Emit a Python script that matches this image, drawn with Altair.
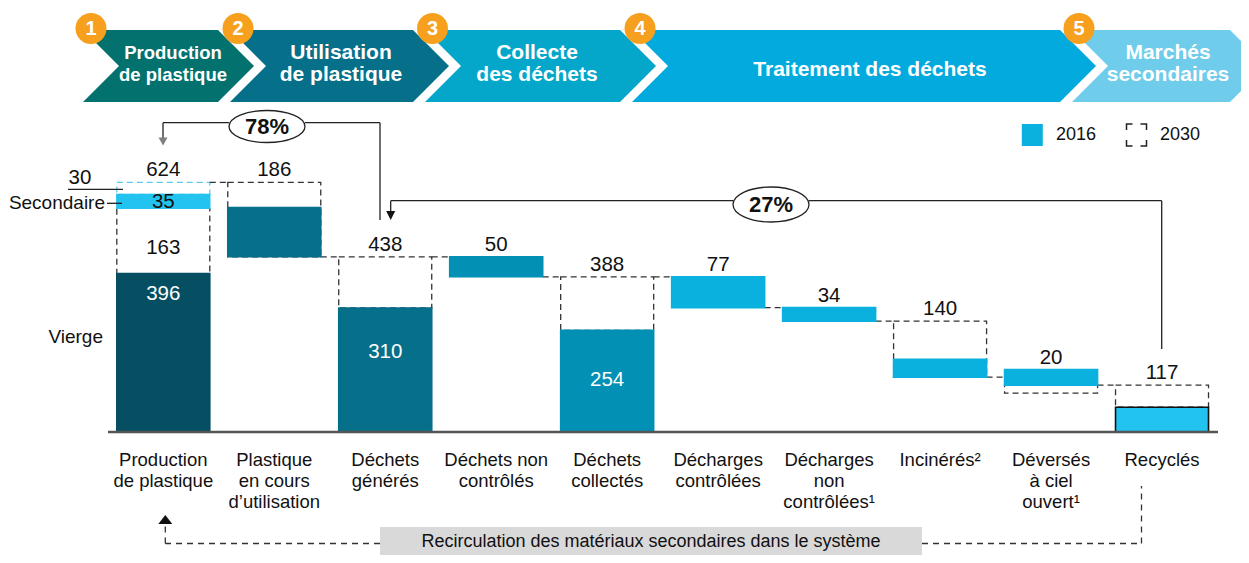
import altair as alt
import pandas as pd

# ---------------- data ----------------
cat_lines = [
    ["Production", "de plastique"],
    ["Plastique", "en cours", "d’utilisation"],
    ["Déchets", "générés"],
    ["Déchets non", "contrôlés"],
    ["Déchets", "collectés"],
    ["Décharges", "contrôlées"],
    ["Décharges", "non", "contrôlées¹"],
    ["Incinérés²"],
    ["Déversés", "à ciel", "ouvert¹"],
    ["Recyclés"],
]
# solid 2016 bars (Mt, drawn as a waterfall)
start_2016 = [0, 438, 0, 388, 0, 311, 277, 137, 117, 0]
end_2016 = [396, 561, 310, 438, 254, 388, 311, 182, 156, 62]
# dashed 2030 boxes
start_2030 = [396, 438, 310, None, 254, None, None, 137, 97, 62]
end_2030 = [559, 624, 438, None, 388, None, None, 277, 117, 117]
secondary_2016 = [559, 594]        # 35
secondary_2030_extra = [594, 624]  # 30
top_values = ["624", "186", "438", "50", "388", "77", "34", "140", "20", "117"]
top_levels = [624, 624, 438, 438, 388, 388, 311, 277, 156, 117]
flow_levels = [624, 438, 438, 388, 388, 311, 277, 137, 117]
inner_values = ["396", "35", "163", "310", "254"]
inner_bar = [0, 0, 0, 2, 4]
inner_levels = [346, 576, 460, 200, 130]
step_numbers = ["1", "2", "3", "4", "5"]
step_titles = [["Production", "de plastique"], ["Utilisation", "de plastique"],
               ["Collecte", "des déchets"], ["Traitement des déchets"],
               ["Marchés", "secondaires"]]
flow_shares = ["78%", "27%"]
legend_labels = ["2016", "2030"]
recirc_text = "Recirculation des matériaux secondaires dans le système"

# ---------------- styles / layout ----------------
FONT = "Liberation Sans"
bar_colors = ["#064F63", "#066F8A", "#066F8A", "#0290B5", "#0290B5",
              "#0BB1DE", "#0BB1DE", "#0BB1DE", "#0BB1DE", "#22C3EE"]
chev_colors = ["#03726E", "#066F8A", "#04A7C9", "#03AADD", "#6FCCEA"]
HW = 0.419
xs = alt.Scale(domain=[-1.3995, 9.7117], nice=False, zero=False)
ys = alt.Scale(domain=[-307.5, 1060], nice=False, zero=False)
OFF = 8


def X(f):
    return alt.X(f, type="quantitative", scale=xs, axis=None)


def Y(f):
    return alt.Y(f, type="quantitative", scale=ys, axis=None)


def PX(f):
    return alt.X(f, type="quantitative", scale=None, axis=None)


def PY(f):
    return alt.Y(f, type="quantitative", scale=None, axis=None)


# ---- bars ----
bars = pd.DataFrame({"i": list(range(10)), "lo": start_2016, "hi": end_2016,
                     "fill": bar_colors,
                     "stroke": bar_colors[:9] + ["#111111"]})
bars["x0"] = bars.i - HW
bars["x1"] = bars.i + HW
bar_layer = alt.Chart(bars).mark_rect(strokeWidth=1.6).encode(
    x=X("x0"), x2="x1", y=Y("lo"), y2="hi",
    fill=alt.Fill("fill:N", scale=None), stroke=alt.Stroke("stroke:N", scale=None))

sec = pd.DataFrame({"x0": [-HW], "x1": [HW], "lo": [secondary_2016[0]], "hi": [secondary_2016[1]]})
sec_layer = alt.Chart(sec).mark_rect(color="#22C3EE", stroke="#22C3EE", strokeWidth=1.4).encode(
    x=X("x0"), x2="x1", y=Y("lo"), y2="hi")

box_rows = []
for i, (a, b) in enumerate(zip(start_2030, end_2030)):
    if a is not None:
        box_rows.append({"x0": i - HW, "x1": i + HW, "lo": a, "hi": b, "stroke": "#333333"})
box_rows.append({"x0": -HW, "x1": HW, "lo": secondary_2030_extra[0],
                 "hi": secondary_2030_extra[1], "stroke": "#5CC9EE"})
boxes = pd.DataFrame(box_rows)
box_layer = alt.Chart(boxes).mark_rect(fill="transparent", strokeDash=[6, 4], strokeWidth=1.3).encode(
    x=X("x0"), x2="x1", y=Y("lo"), y2="hi", stroke=alt.Stroke("stroke:N", scale=None))

conn = pd.DataFrame({"x0": [i + HW for i in range(9)], "x1": [i + 1 - HW for i in range(9)],
                     "lv": flow_levels})
conn_layer = alt.Chart(conn).mark_rule(color="#333333", strokeDash=[6, 4], strokeWidth=1.3).encode(
    x=X("x0"), x2="x1", y=Y("lv"))

toplab = pd.DataFrame({"i": list(range(10)), "t": top_values,
                       "lv": [v + 30 for v in top_levels]})
top_layer = alt.Chart(toplab).mark_text(font=FONT, fontSize=20.5, color="#111111", baseline="middle").encode(
    x=X("i"), y=Y("lv"), text="t:N")

inner = pd.DataFrame({"i": inner_bar, "t": inner_values, "lv": inner_levels,
                      "c": ["#FFFFFF", "#111111", "#111111", "#FFFFFF", "#FFFFFF"]})
inner_layer = alt.Chart(inner).mark_text(font=FONT, fontSize=20.5, baseline="middle").encode(
    x=X("i"), y=Y("lv"), text="t:N", color=alt.Color("c:N", scale=None))

cat_rows = []
for i, lines in enumerate(cat_lines):
    for k, ln in enumerate(lines):
        cat_rows.append({"i": i, "t": ln, "py": 460 + 21 * k - OFF})
cat_layer = alt.Chart(pd.DataFrame(cat_rows)).mark_text(
    font=FONT, fontSize=18.5, color="#111111", baseline="middle").encode(
    x=X("i"), y=PY("py"), text="t:N")

# ---- header chevrons ----
chev_L = [83, 230, 425, 632, 1072]
chev_W = [135, 183, 195, 428, 158]
chev = pd.DataFrame({
    "px": [l - OFF for l in chev_L], "py": [66 - OFF] * 5,
    "path": [f"M0,-36L{w},-36L{w + 36},0L{w},36L0,36L36,0Z" for w in chev_W],
    "fill": chev_colors})
chev_layer = alt.Chart(chev).mark_point(filled=True, size=4, opacity=1, strokeWidth=0).encode(
    x=PX("px"), y=PY("py"), shape=alt.Shape("path:N", scale=None), fill=alt.Fill("fill:N", scale=None))

circ_x = [91, 238, 432.5, 640, 1079]
circ = pd.DataFrame({"px": [c - OFF for c in circ_x], "py": [28.5 - OFF] * 5, "t": step_numbers})
circ_layer = alt.Chart(circ).mark_point(shape="circle", filled=True, size=961, opacity=1,
                                        color="#F6A01E", strokeWidth=0).encode(x=PX("px"), y=PY("py"))
circ_txt = alt.Chart(circ).mark_text(font=FONT, fontSize=20, fontWeight="bold", color="white",
                                     baseline="middle").encode(x=PX("px"), y=PY("py"), text="t:N")

head_x = [173, 341, 537, 870, 1168]
head_size = [18.5, 21, 21, 21, 21]
head_rows = []
for j, lines in enumerate(step_titles):
    ys_ = [69.5] if len(lines) == 1 else [52.5, 75]
    for ln, yy in zip(lines, ys_):
        head_rows.append({"px": head_x[j] - OFF, "py": yy - OFF, "t": ln, "s": head_size[j]})
head_layer = alt.Chart(pd.DataFrame(head_rows)).mark_text(
    font=FONT, fontWeight="bold", color="white", baseline="middle").encode(
    x=PX("px"), y=PY("py"), text="t:N", size=alt.Size("s:Q", scale=None))

# ---- annotation lines ----
segs = [
    (380, 220, 380, 122.7), (380, 122.7, 305, 122.7), (229, 122.7, 163, 122.7), (163, 122.7, 163, 138),
    (1161.7, 349, 1161.7, 200.7), (1161.7, 200.7, 809, 200.7), (733, 200.7, 390.7, 200.7),
    (390.7, 200.7, 390.7, 212),
    (68, 189.3, 123, 189.3), (107, 203.3, 122, 203.3),
]
seg_df = pd.DataFrame([{"x": a - OFF, "y": b - OFF, "x2": c - OFF, "y2": d - OFF} for a, b, c, d in segs])
seg_layer = alt.Chart(seg_df).mark_rule(color="#222222", strokeWidth=1.3).encode(
    x=PX("x"), y=PY("y"), x2="x2", y2="y2")

dsegs = [(380, 543.5, 165.3, 543.5), (165.3, 543.5, 165.3, 524),
         (922, 543.5, 1141.5, 543.5), (1141.5, 543.5, 1141.5, 486)]
dseg_df = pd.DataFrame([{"x": a - OFF, "y": b - OFF, "x2": c - OFF, "y2": d - OFF} for a, b, c, d in dsegs])
dseg_layer = alt.Chart(dseg_df).mark_rule(color="#333333", strokeWidth=1.3, strokeDash=[6, 5]).encode(
    x=PX("x"), y=PY("y"), x2="x2", y2="y2")

axis_df = pd.DataFrame({"x": [108 - OFF], "x2": [1218 - OFF], "y": [432 - OFF]})
axis_layer = alt.Chart(axis_df).mark_rule(color="#555555", strokeWidth=2.4).encode(
    x=PX("x"), x2="x2", y=PY("y"))

arrows = pd.DataFrame({
    "px": [163 - OFF, 390.7 - OFF, 165.3 - OFF], "py": [145.5 - OFF, 220 - OFF, 515 - OFF],
    "path": ["M-4.5,-8L4.5,-8L0,0Z", "M-4.5,-9L4.5,-9L0,0Z", "M-7,9L7,9L0,0Z"],
    "fill": ["#808080", "#111111", "#111111"]})
arrow_layer = alt.Chart(arrows).mark_point(filled=True, size=4, opacity=1, strokeWidth=0).encode(
    x=PX("px"), y=PY("py"), shape=alt.Shape("path:N", scale=None), fill=alt.Fill("fill:N", scale=None))

ell = pd.DataFrame({"px": [267 - OFF, 771 - OFF], "py": [126.5 - OFF, 204.5 - OFF],
                    "path": ["M-38,0A38,16 0 1,0 38,0A38,16 0 1,0 -38,0Z",
                             "M-38,0A38,17.5 0 1,0 38,0A38,17.5 0 1,0 -38,0Z"],
                    "t": flow_shares})
ell_layer = alt.Chart(ell).mark_point(filled=True, size=4, opacity=1, fill="white", stroke="#222222",
                                      strokeWidth=1.3).encode(
    x=PX("px"), y=PY("py"), shape=alt.Shape("path:N", scale=None))
ell_txt = alt.Chart(ell).mark_text(font=FONT, fontSize=22, fontWeight="bold", color="#111111",
                                   baseline="middle").encode(x=PX("px"), y=PY("py"), text="t:N")

# ---- left labels ----
left_c = pd.DataFrame({"px": [80 - OFF], "py": [178 - OFF], "t": ["30"]})
left_c_layer = alt.Chart(left_c).mark_text(font=FONT, fontSize=20.5, color="#111111", baseline="middle").encode(
    x=PX("px"), y=PY("py"), text="t:N")
left_r = pd.DataFrame({"px": [105 - OFF, 103 - OFF], "py": [203 - OFF, 337 - OFF], "t": ["Secondaire", "Vierge"]})
left_r_layer = alt.Chart(left_r).mark_text(font=FONT, fontSize=19, color="#111111", baseline="middle",
                                           align="right").encode(x=PX("px"), y=PY("py"), text="t:N")

# ---- legend ----
leg = pd.DataFrame({"px": [1032.3 - OFF, 1136.5 - OFF], "py": [135 - OFF, 135 - OFF]})
leg_sq = alt.Chart(leg.iloc[[0]]).mark_point(filled=True, size=4, opacity=1, strokeWidth=0, color="#0BB1DE",
                                             shape="M-10.5,-11L10.5,-11L10.5,11L-10.5,11Z").encode(
    x=PX("px"), y=PY("py"))
leg_br = alt.Chart(leg.iloc[[1]]).mark_point(
    filled=False, size=4, opacity=1, strokeWidth=1.5, color="#222222",
    shape="M-10,-5L-10,-11L-4,-11M4,-11L10,-11L10,-5M10,5L10,11L4,11M-4,11L-10,11L-10,5").encode(
    x=PX("px"), y=PY("py"))
leg_txt = alt.Chart(pd.DataFrame({"px": [1056 - OFF, 1160 - OFF], "py": [135 - OFF] * 2,
                                  "t": legend_labels})).mark_text(
    font=FONT, fontSize=18, color="#111111", baseline="middle", align="left").encode(
    x=PX("px"), y=PY("py"), text="t:N")

# ---- recirculation box ----
rbox = pd.DataFrame({"x": [380 - OFF], "x2": [922 - OFF], "y": [527 - OFF], "y2": [570 - OFF]})
rbox_layer = alt.Chart(rbox).mark_rect(color="#D9D9D9").encode(x=PX("x"), x2="x2", y=PY("y"), y2="y2")
rtxt = alt.Chart(pd.DataFrame({"px": [651 - OFF], "py": [542 - OFF], "t": [recirc_text]})).mark_text(
    font=FONT, fontSize=18, color="#111111", baseline="middle").encode(x=PX("px"), y=PY("py"), text="t:N")

chart = alt.layer(
    chev_layer, circ_layer, circ_txt, head_layer,
    box_layer, conn_layer, bar_layer, sec_layer,
    top_layer, inner_layer, cat_layer, axis_layer,
    seg_layer, arrow_layer, ell_layer, ell_txt,
    left_c_layer, left_r_layer,
    leg_sq, leg_br, leg_txt,
    dseg_layer, rbox_layer, rtxt,
).properties(width=1233, height=547, padding=0, autosize="none").configure_view(strokeWidth=0)

chart.save("out.html", embed_options={"renderer": "svg", "actions": False})
